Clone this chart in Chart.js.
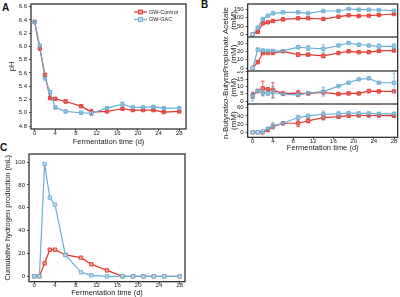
<!DOCTYPE html>
<html>
<head>
<meta charset="utf-8">
<script src="https://cdn.jsdelivr.net/npm/chart.js@4.4.1/dist/chart.umd.min.js"></script>
<style>
  body { margin: 0; background: #fff; width: 400px; height: 297px; overflow: hidden; position: relative; font-family: "Liberation Sans", Arial, sans-serif; }
  canvas { position: absolute; }
  .tag { position: absolute; font-weight: bold; font-size: 10px; line-height: 10px; color: #111; }
</style>
</head>
<body>
<div class="tag" style="left:2px;top:3px">A</div>
<div class="tag" style="left:201px;top:0px">B</div>
<div class="tag" style="left:0px;top:143px">C</div>

<canvas id="cA" width="200" height="150" style="left:0;top:0"></canvas>
<canvas id="cB1" width="200" height="37" style="left:200px;top:0"></canvas>
<canvas id="cB2" width="200" height="34" style="left:200px;top:37px"></canvas>
<canvas id="cB3" width="200" height="33" style="left:200px;top:71px"></canvas>
<canvas id="cB4" width="200" height="49" style="left:200px;top:104px"></canvas>
<canvas id="cC" width="200" height="152" style="left:0;top:145px"></canvas>

<script>
// sampling days and series names
const days = [0, 1, 2, 3, 4, 6, 9, 11, 14, 17, 19, 21, 23, 25, 28];
const series = ['GW-Control', 'GW-GAC'];
const xTicks = [0, 4, 8, 12, 16, 20, 24, 28];

// A - pH
const phControl = [6.37, 5.97, 5.57, 5.22, 5.21, 5.17, 5.10, 5.01, 5.02, 5.06, 5.04, 5.04, 5.04, 5.01, 5.02];
const phGac     = [6.37, 6.01, 5.52, 5.31, 5.08, 5.02, 5.00, 4.99, 5.07, 5.13, 5.08, 5.08, 5.09, 5.07, 5.07];
const phControlErr = [0.01, 0.02, 0.02, 0.01, 0.02, 0.02, 0.01, 0.04, 0.01, 0.01, 0.01, 0.01, 0.01, 0.01, 0.01];
const phGacErr     = [0.01, 0.02, 0.01, 0.02, 0.01, 0.02, 0.01, 0.03, 0.01, 0.03, 0.01, 0.01, 0.01, 0.01, 0.01];
const phTicks = [4.8, 5.0, 5.2, 5.4, 5.6, 5.8, 6.0, 6.2, 6.4, 6.6];

// B - VFAs (mM)
const acetateControl = [0, 15, 66, 72, 80, 90, 96, 96, 92, 106, 114, 110, 112, 116, 122];
const acetateGac     = [0, 40, 92, 112, 126, 132, 132, 126, 140, 140, 152, 148, 148, 146, 142];
const acetateControlErr = [0, 3, 5, 4, 5, 8, 6, 4, 5, 4, 3, 3, 3, 3, 3];
const acetateGacErr     = [0, 3, 3, 3, 3, 3, 3, 3, 4, 3, 4, 3, 3, 3, 3];
const acetateTicks = [0, 50, 100, 150];

const propControl = [0, 7, 18, 18, 18, 20, 16, 16, 14.5, 18, 20, 19, 19, 20.5, 21];
const propGac     = [0, 22, 21, 20.5, 20.5, 20.5, 25, 24, 23, 27, 30, 28, 27, 26, 26];
const propControlErr = [0, 1, 1, 1, 1, 1, 2, 1, 2, 1, 1, 1, 1, 1, 1];
const propGacErr     = [0, 2, 1, 1, 1, 1, 2, 3, 5, 1, 1, 1, 1, 3, 3];
const propTicks = [0, 10, 20, 30];

const isoControl = [4, 6.8, 8.6, 8, 7.5, 5.2, 5.2, 5.2, 5.9, 4.8, 5.2, 5.2, 6.8, 6.6, 6.6];
const isoGac     = [3, 7, 5.7, 5.2, 5.9, 4.8, 4.1, 5.5, 6.4, 10.2, 12.5, 14.8, 15.5, 12.5, 12.5];
const isoControlErr = [2, 1, 5, 1, 5, 1, 2, 0.5, 1, 0.5, 0.5, 0.5, 1.2, 0.5, 0.5];
const isoGacErr     = [3, 1, 2, 1, 4, 0.5, 1, 0.5, 3, 0.5, 0.5, 0.5, 0.8, 0.5, 6.5];
const isoTicks = [0, 5, 10, 15, 20];

const nbutControl = [0, 0, 0, 5.7, 14, 22, 22, 28, 36, 38, 40.5, 41, 41, 41, 40.5];
const nbutGac     = [0, 0, 2, 9, 16, 22, 36, 40, 44, 45, 47, 46, 46, 45, 45];
const nbutControlErr = [0, 0, 0, 1, 4, 3, 8, 5, 6, 3, 4, 2, 2, 2, 2];
const nbutGacErr     = [0, 0, 1, 2, 8, 2, 6, 3, 8, 6, 3, 4, 3, 3, 3];
const nbutTicks = [0, 20, 40, 60];

// C - hydrogen (mL)
const h2Control = [0, 0, 11.4, 23.3, 23.3, 18.7, 16.3, 10.5, 5.2, 0, 0, 0, 0, 0, 0];
const h2Gac     = [0, 0, 98.3, 68.8, 62.7, 18.7, 3.5, 0.9, 0, 0, 0, 0, 0, 0, 0];
const h2Ticks = [0, 20, 40, 60, 80, 100];

const RED = '#e5332a', RED_FILL = '#f3a39c';
const BLUE = '#6aaed6', BLUE_FILL = '#bcdcef';
const INK = '#222';
const FONT = '"Liberation Sans", Arial, sans-serif';

Chart.defaults.font.family = FONT;
Chart.defaults.color = INK;

const boxPlugin = {
  id: 'box',
  afterDraw(c) {
    const a = c.chartArea, ctx = c.ctx;
    ctx.save();
    ctx.strokeStyle = INK;
    ctx.lineWidth = 1.2;
    ctx.strokeRect(a.left, a.top, a.right - a.left, a.bottom - a.top);
    ctx.restore();
  }
};

const errPlugin = {
  id: 'errbars',
  afterDatasetsDraw(c) {
    const ctx = c.ctx, ys = c.scales.y;
    c.data.datasets.forEach((ds, i) => {
      if (!ds.err) return;
      const meta = c.getDatasetMeta(i);
      ctx.save();
      ctx.strokeStyle = ds.borderColor;
      ctx.lineWidth = 0.8;
      meta.data.forEach((p, j) => {
        const e = ds.err[j];
        if (!e) return;
        const v = ds.data[j].y;
        const y1 = ys.getPixelForValue(v + e), y2 = ys.getPixelForValue(v - e);
        ctx.beginPath();
        ctx.moveTo(p.x, y1); ctx.lineTo(p.x, y2);
        ctx.moveTo(p.x - 1.6, y1); ctx.lineTo(p.x + 1.6, y1);
        ctx.moveTo(p.x - 1.6, y2); ctx.lineTo(p.x + 1.6, y2);
        ctx.stroke();
      });
      ctx.restore();
    });
  }
};

const legendPlugin = {
  id: 'miniLegend',
  afterDraw(c, args, opt) {
    if (!opt || opt.x === undefined) return;
    const ctx = c.ctx;
    c.data.datasets.forEach((ds, i) => {
      const y = opt.y + i * opt.dy;
      const mx = opt.x + opt.len / 2;
      ctx.save();
      ctx.strokeStyle = ds.borderColor;
      ctx.lineWidth = 1.2;
      ctx.beginPath();
      ctx.moveTo(opt.x, y); ctx.lineTo(opt.x + opt.len, y);
      ctx.stroke();
      ctx.fillStyle = ds.pointBackgroundColor;
      ctx.lineWidth = 0.9;
      ctx.fillRect(mx - 2, y - 2, 4, 4);
      ctx.strokeRect(mx - 2, y - 2, 4, 4);
      ctx.fillStyle = INK;
      ctx.font = '5.5px ' + FONT;
      ctx.textBaseline = 'middle';
      ctx.fillText(ds.label, opt.x + opt.len + 2, y);
      ctx.restore();
    });
  }
};

function ds(label, color, fill, vals, err, order) {
  return {
    label,
    data: days.map((d, i) => ({ x: d, y: vals[i] })),
    err,
    borderColor: color,
    backgroundColor: fill,
    pointBackgroundColor: fill,
    pointBorderColor: color,
    pointStyle: 'rect',
    pointRadius: 2.4,
    pointHoverRadius: 2.4,
    pointBorderWidth: 0.9,
    borderWidth: 1.2,
    tension: 0,
    clip: 4,
    order
  };
}

function panel(id, o) {
  const xScale = {
    type: 'linear', min: o.xMin, max: o.xMax, display: o.showX,
    afterBuildTicks: s => { s.ticks = xTicks.map(v => ({ value: v })); },
    grid: { drawOnChartArea: false, tickLength: 2, tickColor: INK, tickWidth: 0.8 },
    border: { display: false },
    ticks: { font: { size: 6, lineHeight: 1 }, padding: o.xTickPad, color: INK, autoSkip: false, maxRotation: 0 },
    title: { display: true, text: 'Fermentation time (d)', font: { size: 7.5, lineHeight: 1 }, padding: { top: 0, bottom: o.xTitlePad }, color: INK }
  };
  if (o.showX) {
    xScale.afterFit = s => { s.height = o.xH; s.paddingLeft = 0; s.paddingRight = 0; };
  }
  return new Chart(document.getElementById(id), {
    type: 'line',
    data: {
      datasets: [
        ds(series[0], RED, RED_FILL, o.ctrl, o.ctrlErr, 1),
        ds(series[1], BLUE, BLUE_FILL, o.gac, o.gacErr, 0)
      ]
    },
    options: {
      responsive: false,
      animation: false,
      devicePixelRatio: 1,
      layout: { autoPadding: false, padding: { top: o.padTop, right: o.padRight, left: 0, bottom: 0 } },
      plugins: { legend: { display: false }, tooltip: { enabled: false }, miniLegend: o.legend || {} },
      scales: {
        x: xScale,
        y: {
          min: o.yMin, max: o.yMax,
          afterBuildTicks: s => { s.ticks = o.yTicks.map(v => ({ value: v })); },
          afterFit: s => { s.width = o.yW; s.paddingTop = 0; s.paddingBottom = 0; },
          grid: { drawOnChartArea: false, tickLength: 2, tickColor: INK, tickWidth: 0.8 },
          border: { display: false },
          ticks: {
            font: { size: 6, lineHeight: 1 }, padding: 2, color: INK, autoSkip: false,
            callback: v => o.dec ? v.toFixed(o.dec) : v
          },
          title: { display: true, text: o.yTitle, font: { size: o.yTitleSize || 7.5, lineHeight: 1 }, padding: { top: o.yTitlePad, bottom: 0 }, color: INK }
        }
      }
    },
    plugins: [boxPlugin, errPlugin, legendPlugin]
  });
}

// A
panel('cA', {
  ctrl: phControl, gac: phGac, ctrlErr: phControlErr, gacErr: phGacErr,
  xMin: -0.7, xMax: 29.3, yMin: 4.755, yMax: 6.64, yTicks: phTicks, dec: 1,
  yTitle: 'pH', yW: 31, yTitlePad: 8.5, padTop: 4, padRight: 14,
  showX: true, xH: 21, xTickPad: -0.5, xTitlePad: 4.5,
  legend: { x: 134, y: 12, dy: 7.5, len: 13 }
});

// B
const bCommon = { xMin: -0.99, xMax: 28.73, yW: 47.7, yTitlePad: 21.7, yTitleSize: 8, padRight: 2.3 };
panel('cB1', Object.assign({}, bCommon, {
  ctrl: acetateControl, gac: acetateGac, ctrlErr: acetateControlErr, gacErr: acetateGacErr,
  yMin: -16, yMax: 182, yTicks: acetateTicks, yTitle: ['Acetate', '(mM)'],
  padTop: 4, showX: false
}));
panel('cB2', Object.assign({}, bCommon, {
  ctrl: propControl, gac: propGac, ctrlErr: propControlErr, gacErr: propGacErr,
  yMin: -3.6, yMax: 37.2, yTicks: propTicks, yTitle: ['Propionate', '(mM)'],
  padTop: 0, showX: false
}));
panel('cB3', Object.assign({}, bCommon, {
  ctrl: isoControl, gac: isoGac, ctrlErr: isoControlErr, gacErr: isoGacErr,
  yMin: -2, yMax: 20.5, yTicks: isoTicks, yTitle: ['iso-Butyrate', '(mM)'],
  padTop: 0, showX: false
}));
panel('cB4', Object.assign({}, bCommon, {
  ctrl: nbutControl, gac: nbutGac, ctrlErr: nbutControlErr, gacErr: nbutGacErr,
  yMin: -12.2, yMax: 69, yTicks: nbutTicks, yTitle: ['n-Butyrate', '(mM)'],
  padTop: 0, showX: true, xH: 15.7, xTickPad: -0.5, xTitlePad: 1.5
}));

// C
panel('cC', {
  ctrl: h2Control, gac: h2Gac, ctrlErr: null, gacErr: null,
  xMin: -1, xMax: 29, yMin: -4.7, yMax: 107, yTicks: h2Ticks,
  yTitle: 'Cumulative hydrogen production (mL)', yW: 29, yTitlePad: 3.75, padTop: 9, padRight: 15,
  showX: true, xH: 15.3, xTickPad: -1, xTitlePad: 0
});
</script>
</body>
</html>
